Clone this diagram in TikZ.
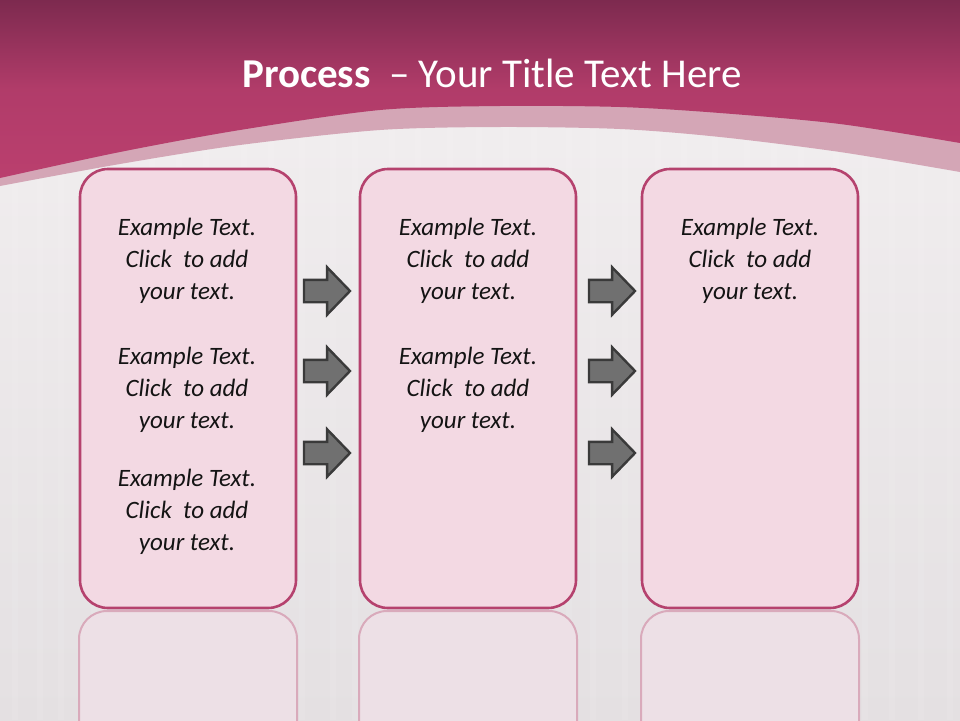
\documentclass[tikz,border=0pt]{standalone}
\usepackage{fontspec}
\setmainfont{Carlito}
\usetikzlibrary{shapes.arrows}
\definecolor{magtop}{HTML}{7D2A4F}
\definecolor{magbot}{HTML}{BA3F6E}
\definecolor{bandc}{HTML}{D4A6B6}
\definecolor{bgtop}{HTML}{F3F0F1}
\definecolor{bgbot}{HTML}{E4E0E2}
\definecolor{boxfill}{HTML}{F3D9E3}
\definecolor{boxline}{HTML}{B5426E}
\definecolor{reflline}{HTML}{D9AABB}
\definecolor{reflfill}{HTML}{EDE0E6}
\definecolor{arrfill}{HTML}{707070}
\definecolor{arrline}{HTML}{3A3A3A}
\tikzset{
  box/.style={draw=boxline, fill=boxfill, line width=2.6pt, rounded corners=28pt,
    minimum width=216pt, minimum height=439pt, inner sep=0pt},
  refl/.style={draw=reflline, fill=reflfill, line width=2pt, rounded corners=28pt},
  txt/.style={align=center, font=\fontsize{25}{32}\selectfont\itshape, text=black!92, inner sep=0pt},
  blockarrow/.style={single arrow, draw=arrline, fill=arrfill, line width=2.4pt,
    minimum height=46pt, inner xsep=0pt, inner ysep=10pt, single arrow head extend=12.5pt,
    single arrow tip angle=92, outer sep=0pt, anchor=tail},
  titletxt/.style={text=white, font=\fontsize{41}{48}\selectfont, inner sep=0pt}
}
\newcommand{\ctext}{Example Text.\\Click\ \ to add\\your text.}
\begin{document}
\begin{tikzpicture}[x=1pt,y=-1pt]
\useasboundingbox (0,0) rectangle (960,720);
% background
\shade[top color=bgtop, bottom color=bgbot] (0,0) rectangle (960,720);
\foreach \sx in {12,37,58,91,120,149,176,203,241,268,299,330,352,389,415,447,476,503,531,566,590,622,655,681,712,744,771,798,833,862,889,918,947}{
  \fill[white, opacity=0.08] (\sx,120) rectangle (\sx+6,720);
}
% light band
\fill[bandc] (0,0) -- (960,0) -- plot[smooth] coordinates {(960,172) (840,152) (720,137) (620,129) (500,127) (380,130) (240,145) (120,164) (0,186)} -- cycle;
% magenta header
\shade[top color=magtop, bottom color=magbot, middle color=magbot!85!magtop, shading angle=0]
  (0,0) -- (960,0) -- plot[smooth] coordinates {(960,143) (840,124) (720,113) (620,107) (500,106) (380,110) (240,130) (120,152) (0,178)} -- cycle;
% title
\node[titletxt, anchor=base west] (title) at (242,87) {\textbf{Process}\hspace{0.45em}– Your Title Text Here};
% reflections
\draw[refl] (79,730) -- (79,611) -- (297,611) -- (297,730);
\draw[refl] (359,730) -- (359,611) -- (577,611) -- (577,730);
\draw[refl] (641,730) -- (641,611) -- (859,611) -- (859,730);
% boxes
\node[box] (b1) at (188,388.5) {};
\node[box] (b2) at (468,388.5) {};
\node[box] (b3) at (750,388.5) {};
% texts
\node[txt] (t11) at (187,261) {\ctext};
\node[txt] (t12) at (187,390) {\ctext};
\node[txt] (t13) at (187,512) {\ctext};
\node[txt] (t21) at (468,261) {\ctext};
\node[txt] (t22) at (468,390) {\ctext};
\node[txt] (t31) at (750,261) {\ctext};
% arrows
\node[blockarrow] (a11) at (304,291) {};
\node[blockarrow] (a12) at (304,371) {};
\node[blockarrow] (a13) at (304,453) {};
\node[blockarrow] (a21) at (589,291) {};
\node[blockarrow] (a22) at (589,371) {};
\node[blockarrow] (a23) at (589,453) {};
\end{tikzpicture}
\end{document}
